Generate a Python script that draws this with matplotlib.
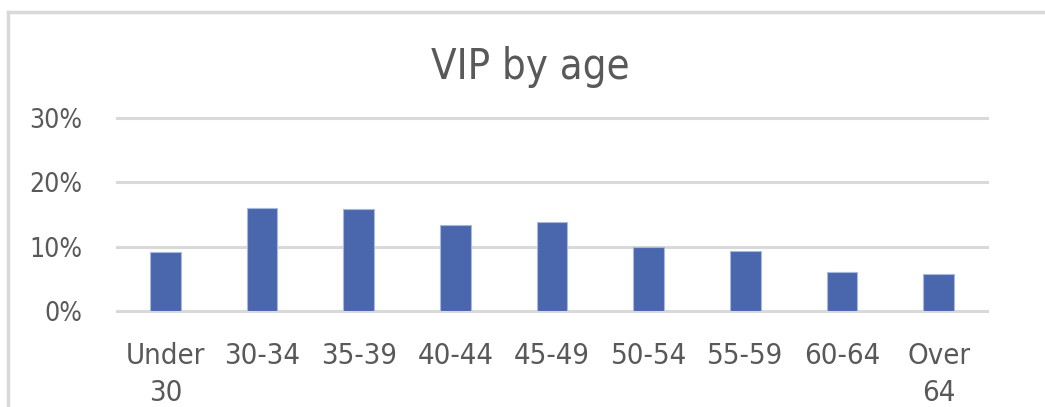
import matplotlib.pyplot as plt
from matplotlib.ticker import PercentFormatter

age_groups = ["Under\n30", "30-34", "35-39", "40-44", "45-49", "50-54", "55-59", "60-64", "Over\n64"]
vip_share = [0.092, 0.160, 0.158, 0.133, 0.138, 0.099, 0.094, 0.060, 0.057]
y_ticks = [0.0, 0.10, 0.20, 0.30]

plt.rcParams['font.family'] = ['DejaVu Sans']
plt.rcParams['font.stretch'] = 'condensed'
text_grey = '#595959'

fig = plt.figure(figsize=(10.45, 4.07), dpi=100)
ax = fig.add_axes([0.112, 0.236, 0.8325, 0.474])

x = range(len(age_groups))
ax.bar(x, vip_share, width=0.32, color='#4a66ac', edgecolor='#a9b8dd', linewidth=0.8, zorder=3)

ax.set_xlim(-0.5, len(age_groups) - 0.5)
ax.set_ylim(0, 0.30)
ax.set_yticks(y_ticks)
ax.yaxis.set_major_formatter(PercentFormatter(1.0, decimals=0))
ax.set_xticks(list(x))
ax.set_xticklabels(age_groups, linespacing=1.45)

ax.grid(axis='y', color='#d9d9d9', linewidth=2.2, zorder=0)
for gl in ax.get_ygridlines():
    gl.set_clip_on(False)
for s in ax.spines.values():
    s.set_visible(False)
ax.tick_params(axis='y', length=0, labelsize=19, colors=text_grey, pad=25)
ax.tick_params(axis='x', length=0, labelsize=21, colors=text_grey, pad=22)

fig.text(0.507, 0.835, "VIP by age", ha='center', va='center', fontsize=30, color=text_grey)

# chart frame (open at right and bottom)
fig.add_artist(plt.Line2D([8 / 1045, 8 / 1045], [0, 1 - 12 / 407], color='#d9d9d9', linewidth=2.5))
fig.add_artist(plt.Line2D([8 / 1045, 1], [1 - 12 / 407, 1 - 12 / 407], color='#d9d9d9', linewidth=2.5))

fig.savefig("out.png", dpi=100)
